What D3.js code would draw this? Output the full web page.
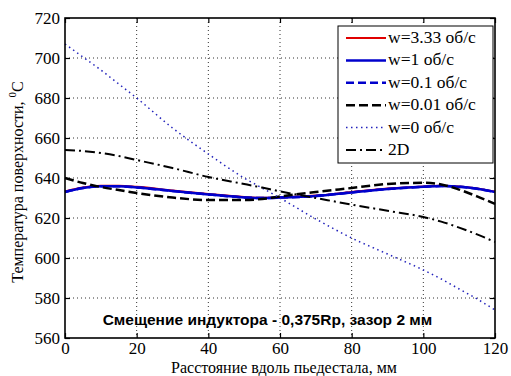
<!DOCTYPE html>
<html>
<head>
<meta charset="utf-8">
<style>
  body { margin: 0; background: #fff; }
</style>
<script src="https://d3js.org/d3.v7.min.js"></script>
</head>
<body>
<div id="chart"></div>
<script>
// distance along pedestal, mm
var xs = [0, 5, 10, 15, 20, 30, 40, 50, 55, 60, 70, 80, 90, 100, 105, 110, 115, 120];

// surface temperature, C
var w333 = [633.3, 635.2, 636.1, 636.1, 635.6, 633.8, 632.0, 630.5, 630.1, 630.3, 631.2, 633.0, 634.7, 635.8, 636.1, 635.8, 634.8, 633.2];
var w1   = [633.0, 635.0, 635.9, 635.9, 635.3, 633.5, 631.8, 630.3, 630.0, 630.2, 631.0, 632.8, 634.5, 635.6, 636.0, 635.6, 634.6, 633.0];
var w01  = [633.0, 635.0, 635.9, 635.9, 635.3, 633.5, 631.8, 630.3, 630.0, 630.2, 631.0, 632.8, 634.5, 635.6, 636.0, 635.6, 634.6, 633.0];
var w001 = [640.0, 637.5, 635.5, 634.0, 632.5, 630.2, 629.0, 629.0, 629.5, 630.8, 633.0, 635.0, 637.0, 637.6, 636.8, 634.2, 630.8, 627.0];
var w0   = [707.0, 700.5, 694.0, 687.0, 680.0, 665.0, 652.0, 640.0, 635.0, 630.0, 619.5, 610.0, 602.0, 594.0, 589.5, 584.5, 579.5, 574.0];
var d2   = [654.0, 653.5, 652.5, 651.0, 649.0, 645.0, 640.5, 637.0, 635.2, 633.3, 630.0, 626.7, 623.6, 620.5, 618.2, 615.2, 611.8, 608.0];

var xTicks = [0, 20, 40, 60, 80, 100, 120];
var yTicks = [560, 580, 600, 620, 640, 660, 680, 700, 720];

var series = [
  {name: "w=3.33 об/с", v: w333, color: "#e00000", dash: null, width: 2},
  {name: "w=1 об/с", v: w1, color: "#0000cc", dash: null, width: 2.5},
  {name: "w=0.1 об/с", v: w01, color: "#0000cc", dash: "8,4", width: 2.5},
  {name: "w=0.01 об/с", v: w001, color: "#000", dash: "9,4", width: 2.5},
  {name: "w=0 об/с", v: w0, color: "#2222bb", dash: "1.5,3.5", width: 1.5},
  {name: "2D", v: d2, color: "#000", dash: "10,4,2,4", width: 2}
];

var serif = "'Liberation Serif', 'Times New Roman', serif";

var W = 511, H = 376;
var margin = {top: 18, right: 16, bottom: 38, left: 65};
var width = W - margin.left - margin.right,
    height = H - margin.top - margin.bottom;

var svg = d3.select("#chart").append("svg")
    .attr("width", W).attr("height", H)
  .append("g")
    .attr("transform", "translate(" + margin.left + "," + margin.top + ")");

var x = d3.scaleLinear().domain([0, 120]).range([0, width]);
var y = d3.scaleLinear().domain([560, 720]).range([height, 0]);

// grid
svg.append("g").selectAll("line").data(xTicks.slice(1, -1)).enter().append("line")
    .attr("x1", d => x(d)).attr("x2", d => x(d)).attr("y1", 0).attr("y2", height)
    .attr("stroke", "#333").attr("stroke-width", 1).attr("stroke-dasharray", "1,3");
svg.append("g").selectAll("line").data(yTicks.slice(1, -1)).enter().append("line")
    .attr("y1", d => y(d)).attr("y2", d => y(d)).attr("x1", 0).attr("x2", width)
    .attr("stroke", "#333").attr("stroke-width", 1).attr("stroke-dasharray", "1,3");

// axes, ticks inward
svg.append("g").attr("transform", "translate(0," + height + ")")
    .call(d3.axisBottom(x).tickValues(xTicks).tickSizeInner(-5).tickSizeOuter(0).tickPadding(4));
svg.append("g")
    .call(d3.axisLeft(y).tickValues(yTicks).tickSizeInner(-5).tickSizeOuter(0).tickPadding(5));
svg.append("g").call(d3.axisTop(x).tickValues(xTicks).tickSizeInner(-5).tickSizeOuter(0).tickFormat(""));
svg.append("g").attr("transform", "translate(" + width + ",0)")
    .call(d3.axisRight(y).tickValues(yTicks).tickSizeInner(-5).tickSizeOuter(0).tickFormat(""));
svg.selectAll(".domain").remove();
svg.selectAll(".tick line").attr("stroke", "#000").attr("stroke-width", 1.2);
svg.selectAll(".tick text")
    .style("font-family", serif).style("font-size", "17px").style("fill", "#000");

// curves
var line = d3.line().curve(d3.curveMonotoneX)
    .x((d, i) => x(xs[i])).y(d => y(d));
series.forEach(function(s) {
  svg.append("path").datum(s.v)
    .attr("d", line)
    .attr("fill", "none")
    .attr("stroke", s.color)
    .attr("stroke-width", s.width)
    .attr("stroke-dasharray", s.dash);
});

// box
svg.append("rect").attr("width", width).attr("height", height)
    .attr("fill", "none").attr("stroke", "#000").attr("stroke-width", 1.6);

// annotation
svg.append("text")
    .attr("x", x(56.5)).attr("y", y(564) - 5)
    .attr("text-anchor", "middle")
    .style("font-family", "'Liberation Sans', Arial, sans-serif")
    .style("font-weight", "bold").style("font-size", "15.5px")
    .text("Смещение индуктора - 0,375Rp, зазор 2 мм");

// legend
var lg = svg.append("g").attr("transform", "translate(" + (width - 157) + ",8)");
lg.append("rect").attr("width", 155).attr("height", 137)
    .attr("fill", "#fff").attr("stroke", "#000").attr("stroke-width", 1);
series.forEach(function(s, i) {
  var yy = 12 + i * 22.4;
  lg.append("line").attr("x1", 8).attr("x2", 48).attr("y1", yy).attr("y2", yy)
    .attr("stroke", s.color).attr("stroke-width", s.width)
    .attr("stroke-dasharray", s.dash);
  lg.append("text").attr("x", 50).attr("y", yy + 5)
    .style("font-family", serif).style("font-size", "17.5px")
    .text(s.name);
});

// axis labels
svg.append("text")
    .attr("x", width / 2 + 4).attr("y", height + 35)
    .attr("text-anchor", "middle")
    .style("font-family", serif).style("font-size", "16px")
    .text("Расстояние вдоль пьедестала, мм");

var yl = svg.append("text")
    .attr("transform", "translate(-42," + (height / 2 + 4) + ") rotate(-90)")
    .attr("text-anchor", "middle")
    .style("font-family", serif).style("font-size", "16px");
yl.append("tspan").text("Температура поверхности, ");
yl.append("tspan").attr("dy", -7).style("font-size", "11px").text("0");
yl.append("tspan").attr("dy", 7).text("C");
</script>
</body>
</html>
